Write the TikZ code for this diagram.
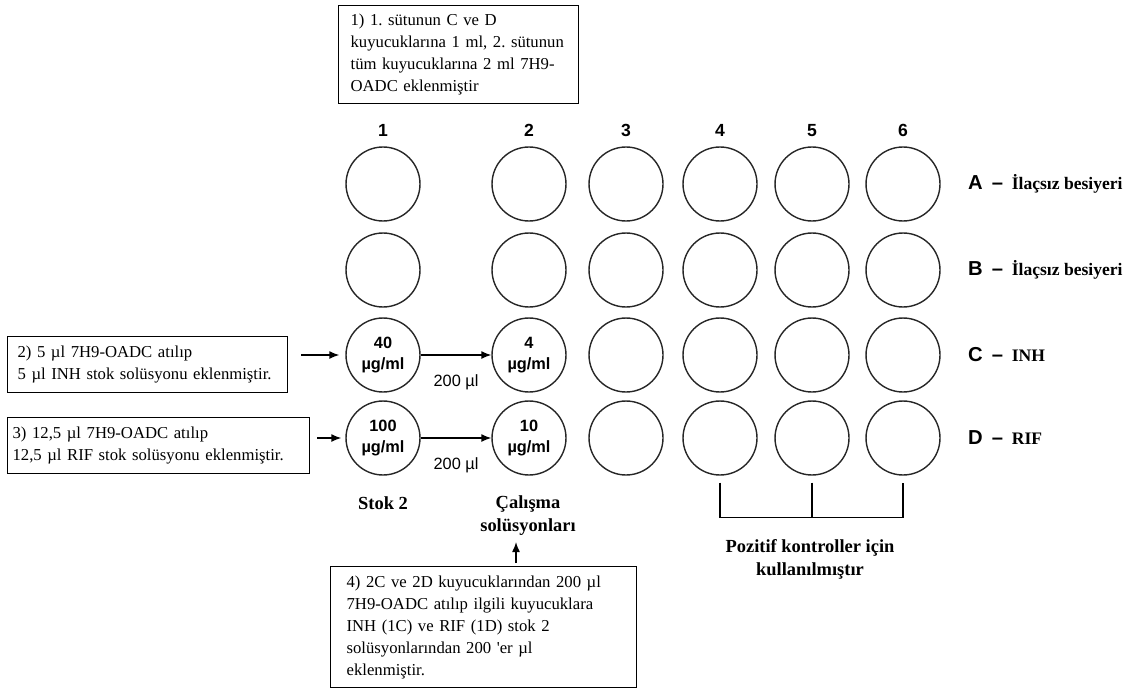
\documentclass[tikz,border=0pt]{standalone}
\usepackage{fontspec}
\setmainfont{Liberation Serif}
\newfontfamily\arialfont{Liberation Sans}
\usetikzlibrary{arrows.meta}
\frenchspacing

\tikzset{
  well/.style={circle, draw=black!85, line width=0.8pt, minimum size=1.48cm, inner sep=0pt},
  conc/.style={font=\arialfont\bfseries\fontsize{9.3}{12}\selectfont, align=center},
  note/.style={draw, line width=0.7pt, align=left, anchor=north west, inner xsep=0.24cm,
    font=\fontsize{9.5}{12.5}\selectfont},
  arr/.style={-{Latex[length=0.2cm,width=0.16cm]}, line width=0.8pt},
  collab/.style={font=\arialfont\bfseries\fontsize{10}{10}\selectfont, anchor=base},
  rowlab/.style={anchor=west, font=\bfseries\fontsize{10}{12}\selectfont},
  boldlab/.style={font=\bfseries\fontsize{10.5}{13}\selectfont, align=center}
}
\newcommand{\rowletter}[1]{{\arialfont\bfseries\fontsize{11.5}{11}\selectfont #1\, –}\enspace}

\begin{document}
\begin{tikzpicture}[x=0.02cm, y=-0.02cm]
\useasboundingbox (0,0) rectangle (1138,689);
% plate: 6 columns, 4 rows
\foreach \c/\x in {1/383,2/529,3/626,4/720,5/812,6/903}{
  \node[collab] (col\c) at (\x,137) {\c};
  \foreach \r/\y in {A/184,B/270,C/355,D/438}{
    \node[well] (W\c\r) at (\x,\y) {};
  }
}
\node[conc] (t1C) at (W1C) {40\\µg/ml};
\node[conc] (t2C) at (W2C) {4\\µg/ml};
\node[conc] (t1D) at (W1D) {100\\µg/ml};
\node[conc] (t2D) at (W2D) {10\\µg/ml};
% row labels
\node[rowlab] (labA) at (962,184) {\rowletter{A}İlaçsız besiyeri};
\node[rowlab] (labB) at (962,270) {\rowletter{B}İlaçsız besiyeri};
\node[rowlab] (labC) at (962,355) {\rowletter{C}INH};
\node[rowlab] (labD) at (962,438) {\rowletter{D}RIF};
% notes
\node[note, text width=4.32cm, minimum height=1.96cm] (note1) at (338,5)
  {1) 1. sütunun C ve D\\kuyucuklarına 1 ml, 2. sütunun\\tüm kuyucuklarına 2 ml 7H9-\\OADC eklenmiştir};
\node[note, inner xsep=0.2cm, text width=5.2cm, minimum height=1.12cm] (note2) at (7,336)
  {2) 5 µl 7H9-OADC atılıp\\5 µl INH stok solüsyonu eklenmiştir.};
\node[note, inner xsep=0.1cm, text width=5.84cm, minimum height=1.12cm] (note3) at (7,417)
  {3) 12,5 µl 7H9-OADC atılıp\\12,5 µl RIF stok solüsyonu eklenmiştir.};
\node[note, inner xsep=0.32cm, text width=5.48cm, minimum height=2.42cm, inner ysep=0.1cm] (note4) at (330,566)
  {4) 2C ve 2D kuyucuklarından 200 µl\\7H9-OADC atılıp ilgili kuyucuklara\\INH (1C) ve RIF (1D) stok 2\\solüsyonlarından 200 \textquotesingle er µl\\eklenmiştir.};
% captions
\node[boldlab] (stok) at (383,503) {Stok 2};
\node[boldlab] (calisma) at (528,516) {Çalışma\\solüsyonları};
\node[boldlab] (pozitif) at (810,559) {Pozitif kontroller için\\kullanılmıştır};
% arrows
\draw[arr, shorten <=0.26cm, shorten >=0.12cm] (note2.east |- W1C) -- (W1C.west);
\draw[arr, shorten <=0.14cm, shorten >=0.08cm] (note3.east |- W1D) -- (W1D.west);
\draw[arr] (W1C) -- (W2C) node[midway, below=0.26cm, font=\arialfont\fontsize{9.3}{10}\selectfont] (v1) {200 µl};
\draw[arr] (W1D) -- (W2D) node[midway, below=0.26cm, font=\arialfont\fontsize{9.3}{10}\selectfont] (v2) {200 µl};
\coordinate (up) at (516,563);
\draw[arr] (up) -- (up |- calisma.south);
% bracket under columns 4-6
\draw[line width=0.6pt] ([yshift=-0.14cm]W4D.south) -- ++(0,35) -| ([yshift=-0.14cm]W6D.south);
\draw[line width=0.6pt] ([yshift=-0.14cm]W5D.south) -- ++(0,35);
\end{tikzpicture}
\end{document}
